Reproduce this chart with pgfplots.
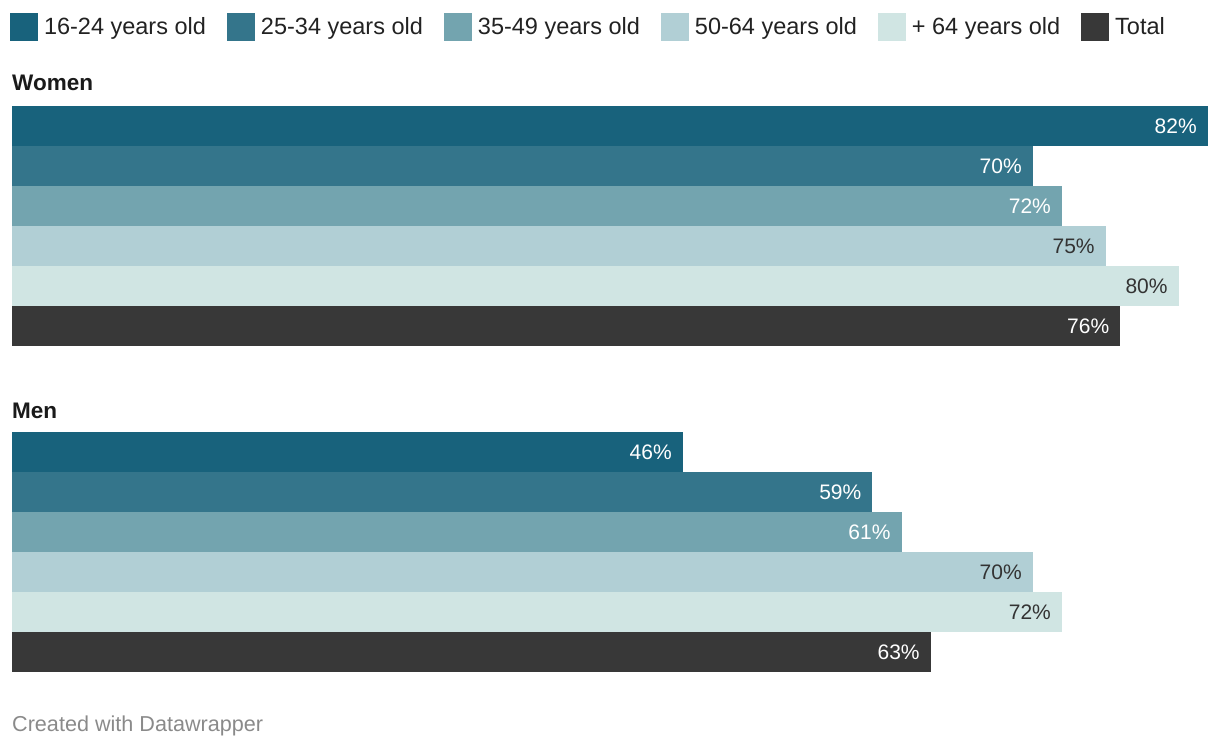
\documentclass[border=0pt]{standalone}
\usepackage{fontspec}
\setmainfont{Liberation Sans}
\usepackage{pgfplots}
\pgfplotsset{compat=1.18}
\definecolor{c1}{HTML}{18627C}
\definecolor{c2}{HTML}{34758B}
\definecolor{c3}{HTML}{73A4AF}
\definecolor{c4}{HTML}{B1CFD5}
\definecolor{c5}{HTML}{D0E5E3}
\definecolor{c6}{HTML}{383838}
\definecolor{lab}{HTML}{333333}
\definecolor{ttl}{HTML}{1A1A1A}
\definecolor{leg}{HTML}{222222}
\definecolor{foot}{HTML}{8A8A8A}
\pgfplotsset{
  panel/.style={xbar, width=1196pt, height=240pt, scale only axis, anchor=north west,
    xmin=0, xmax=82, ymin=-0.5, ymax=5.5, y dir=reverse, axis lines=none, clip=false,
    bar width=40pt, point meta=x,
    /pgf/number format/assume math mode=true,
    nodes near coords={\pgfmathprintnumber{\pgfplotspointmeta}\%},
    every node near coord/.append style={anchor=east, inner sep=0pt, xshift=-11pt,
      font=\fontsize{21}{21}\selectfont}},
  b/.style 2 args={fill=#1, draw=none, bar shift=0pt,
    every node near coord/.append style={text=#2},
    legend image code/.code={\fill[##1] (0pt,-14pt) rectangle (28pt,14pt);}},
}
\begin{document}
\begin{tikzpicture}
\useasboundingbox (0pt,0pt) rectangle (1220pt,-748pt);
\begin{axis}[panel, at={(12pt,-106pt)},
  legend columns=-1,
  legend style={draw=none, fill=none, inner sep=0pt, outer sep=0pt,
    at={(axis description cs:0,1)}, anchor=west, xshift=-2pt, yshift=79pt,
    font=\fontsize{23.5}{23.5}\selectfont, text=leg,
    nodes={inner sep=0pt},
    /tikz/every odd column/.style={column sep=6pt},
    /tikz/every even column/.style={column sep=21pt}},
  legend cell align=left]
\addplot[b={c1}{white}] coordinates {(82,0)}; \addlegendentry{16-24 years old}
\addplot[b={c2}{white}] coordinates {(70,1)}; \addlegendentry{25-34 years old}
\addplot[b={c3}{white}] coordinates {(72,2)}; \addlegendentry{35-49 years old}
\addplot[b={c4}{lab}] coordinates {(75,3)}; \addlegendentry{50-64 years old}
\addplot[b={c5}{lab}] coordinates {(80,4)}; \addlegendentry{+ 64 years old}
\addplot[b={c6}{white}] coordinates {(76,5)}; \addlegendentry{Total}
\end{axis}
\begin{axis}[panel, at={(12pt,-432pt)}]
\addplot[b={c1}{white}] coordinates {(46,0)};
\addplot[b={c2}{white}] coordinates {(59,1)};
\addplot[b={c3}{white}] coordinates {(61,2)};
\addplot[b={c4}{lab}] coordinates {(70,3)};
\addplot[b={c5}{lab}] coordinates {(72,4)};
\addplot[b={c6}{white}] coordinates {(63,5)};
\end{axis}
\node[anchor=base west, inner sep=0pt, text=ttl, font=\fontsize{22.5}{22.5}\selectfont\bfseries] at (12pt,-90pt) {Women};
\node[anchor=base west, inner sep=0pt, text=ttl, font=\fontsize{22.5}{22.5}\selectfont\bfseries] at (12pt,-418pt) {Men};
\node[anchor=base west, inner sep=0pt, text=foot, font=\fontsize{21.6}{21.6}\selectfont] at (12pt,-731pt) {Created with Datawrapper};
\end{tikzpicture}
\end{document}
